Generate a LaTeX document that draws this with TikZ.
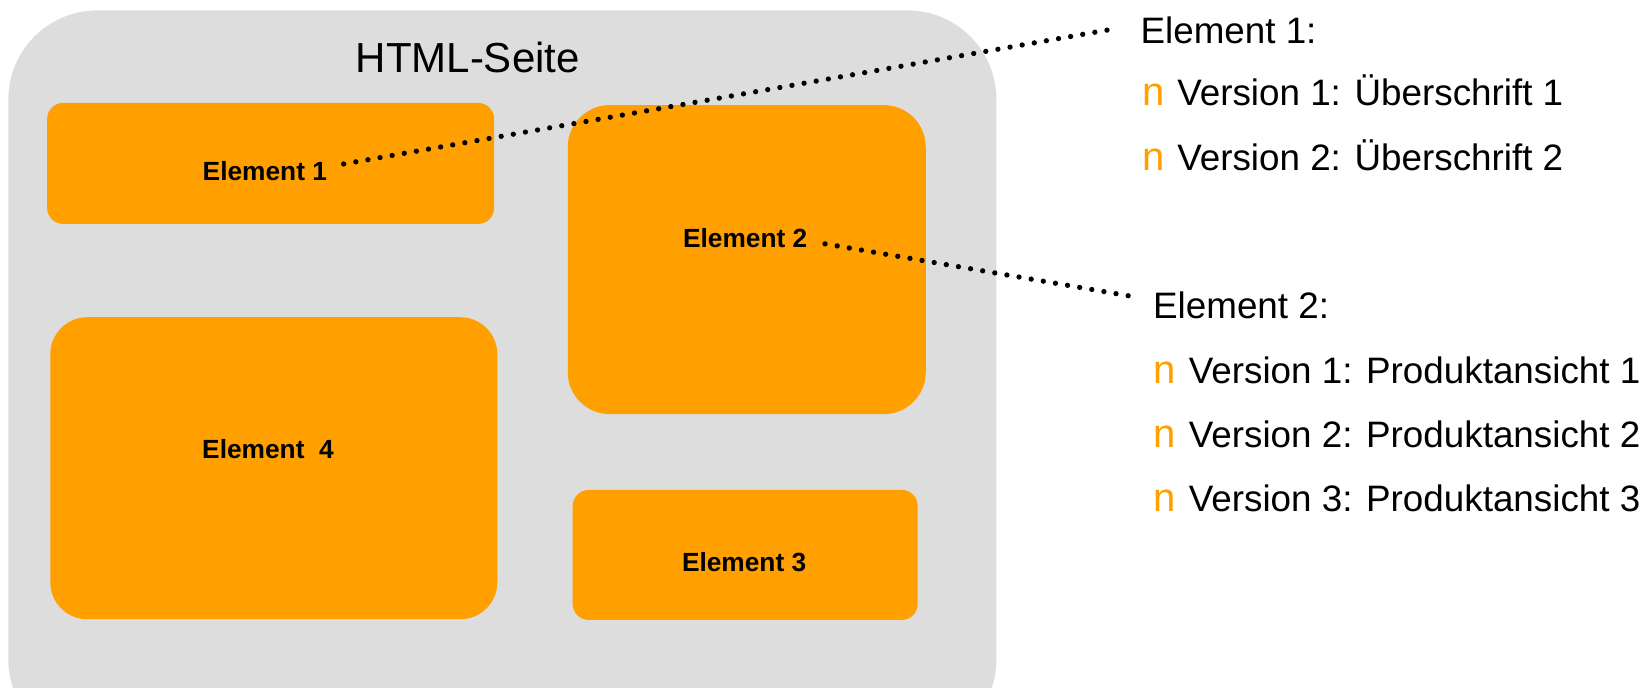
\documentclass[tikz,border=0pt]{standalone}
\usepackage{fontspec}
\setmainfont{Liberation Sans}
\definecolor{boxorange}{RGB}{255,160,0}
\definecolor{pagegray}{RGB}{221,221,221}
\begin{document}
\begin{tikzpicture}[x=1.051pt,y=-1.051pt,
  ebox/.style={fill=boxorange, draw=none, rounded corners=#1, inner sep=0pt},
  elabel/.style={font=\fontsize{26.3}{31}\selectfont\bfseries, inner sep=0pt},
  rtext/.style={font=\fontsize{36.8}{44}\selectfont, anchor=base west, inner sep=0pt},
  bullet/.style={font=\fontsize{40}{44}\selectfont, text=boxorange, anchor=base west, inner sep=0pt},
  dotline/.style={line width=5.3pt, dash pattern=on 0pt off 12.3pt, line cap=round}]
\useasboundingbox (0,0) rectangle (1568,654.6);
\begin{scope}
\clip (0,0) rectangle (1568,654.6);
\node[fill=pagegray, rounded corners=89pt, minimum width=988pt, minimum height=738pt, inner sep=0pt] (page) at (478,361) {};
\end{scope}
\node[font=\fontsize{42}{50}\selectfont, inner sep=0pt] (title) at (445,55) {HTML-Seite};
% boxes
\node[ebox=16pt, minimum width=447pt, minimum height=121pt] (b1) at (257.5,155.5) {};
\node[ebox=42pt, minimum width=358pt, minimum height=309pt] (b2) at (710.5,247) {};
\node[ebox=37pt, minimum width=447pt, minimum height=302pt] (b4) at (260.5,445.5) {};
\node[ebox=16pt, minimum width=345pt, minimum height=130pt] (b3) at (709,528) {};
% labels
\node[elabel] (t1) at (252,163) {Element 1};
\node[elabel] (t2) at (709,227) {Element 2};
\node[elabel] (t4) at (255,427) {Element\ \ 4};
\node[elabel] (t3) at (708,535) {Element 3};
% right texts
\node[rtext] (r1) at (1085,41) {Element 1:};
\node[bullet] (r1a) at (1087,100) {n};
\node[rtext] (r1at) at (1120,100) {Version 1: Überschrift 1};
\node[bullet] (r1b) at (1087,162) {n};
\node[rtext] (r1bt) at (1120,162) {Version 2: Überschrift 2};
\node[rtext] (r2) at (1097,303) {Element 2:};
\node[bullet] (r2a) at (1097,365) {n};
\node[rtext] (r2at) at (1131,365) {Version 1: Produktansicht 1};
\node[bullet] (r2b) at (1097,426) {n};
\node[rtext] (r2bt) at (1131,426) {Version 2: Produktansicht 2};
\node[bullet] (r2c) at (1097,487) {n};
\node[rtext] (r2ct) at (1131,487) {Version 3: Produktansicht 3};
% connectors
\coordinate (c1a) at (327,156);
\coordinate (c1b) at (1057,28);
\coordinate (c2a) at (785,232);
\coordinate (c2b) at (1083,283);
\draw[dotline] (c1a) -- (c1b);
\draw[dotline] (c2a) -- (c2b);
\end{tikzpicture}
\end{document}
